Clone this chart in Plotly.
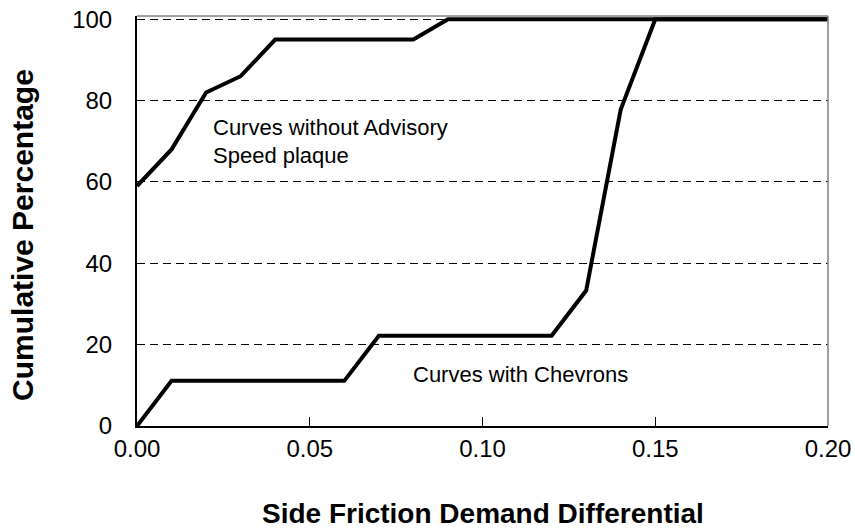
import plotly.graph_objects as go

# Side friction demand differential (x) and cumulative percentage of curves (y)
friction = [0.00, 0.01, 0.02, 0.03, 0.04, 0.05, 0.06, 0.07, 0.08, 0.09, 0.10,
            0.11, 0.12, 0.13, 0.14, 0.15, 0.16, 0.17, 0.18, 0.19, 0.20]
no_advisory = [59, 68, 82, 86, 95, 95, 95, 95, 95, 100, 100,
               100, 100, 100, 100, 100, 100, 100, 100, 100, 100]
chevrons = [0, 11.1, 11.1, 11.1, 11.1, 11.1, 11.1, 22.2, 22.2, 22.2, 22.2,
            22.2, 22.2, 33.3, 77.8, 100, 100, 100, 100, 100, 100]

x_ticks = [0.00, 0.05, 0.10, 0.15, 0.20]
y_ticks = [0, 20, 40, 60, 80, 100]

FONT = "Arial, 'Liberation Sans', sans-serif"

fig = go.Figure()
for ys in (no_advisory, chevrons):
    fig.add_trace(go.Scatter(x=friction, y=ys, mode="lines",
                             line=dict(color="black", width=4),
                             showlegend=False, hoverinfo="skip"))

fig.update_layout(
    width=855, height=529,
    margin=dict(l=137, r=27, t=16, b=103),
    paper_bgcolor="white", plot_bgcolor="white",
    font=dict(family=FONT, color="black"),
    xaxis=dict(range=[0, 0.20], tickvals=x_ticks, tickformat=".2f",
               ticks="inside", ticklen=9, tickcolor="black", tickwidth=1,
               showline=True, linecolor="black", linewidth=1.5,
               showgrid=False, zeroline=False, automargin=False,
               tickfont=dict(size=24), ticklabelstandoff=0),
    yaxis=dict(range=[0, 100.8], tickvals=y_ticks,
               ticks="inside", ticklen=3, tickcolor="black", tickwidth=1,
               showline=True, linecolor="black", linewidth=2,
               showgrid=True, gridcolor="black", gridwidth=1, griddash="8px,5px",
               zeroline=False, automargin=False,
               tickfont=dict(size=24), ticklabelstandoff=18),
)

# top and right frame edges in grey
fig.add_shape(type="line", xref="paper", yref="paper", x0=0, x1=1, y0=1, y1=1,
              line=dict(color="#808080", width=1.5))
fig.add_shape(type="line", xref="paper", yref="paper", x0=1, x1=1, y0=0, y1=1,
              line=dict(color="#808080", width=1.5))

# series labels
label_font = dict(family=FONT, size=22, color="black")
fig.add_annotation(x=0.0214, y=73.5, xref="x", yref="y", text="Curves without Advisory",
                   showarrow=False, xanchor="left", yanchor="middle", font=label_font)
fig.add_annotation(x=0.0214, y=66.4, xref="x", yref="y", text="Speed plaque",
                   showarrow=False, xanchor="left", yanchor="middle", font=label_font)
fig.add_annotation(x=0.0794, y=12.7, xref="x", yref="y", text="Curves with Chevrons",
                   showarrow=False, xanchor="left", yanchor="middle", font=label_font)

# axis titles
fig.add_annotation(x=0.5, y=-0.2146, xref="paper", yref="paper",
                   text="<b>Side Friction Demand Differential</b>",
                   showarrow=False, xanchor="center", yanchor="middle",
                   font=dict(family=FONT, size=28, color="black"))
fig.add_annotation(x=-0.165, y=0.466, xref="paper", yref="paper",
                   text="<b>Cumulative Percentage</b>", textangle=-90,
                   showarrow=False, xanchor="center", yanchor="middle",
                   font=dict(family=FONT, size=30, color="black"))

fig.write_html("out.html")
